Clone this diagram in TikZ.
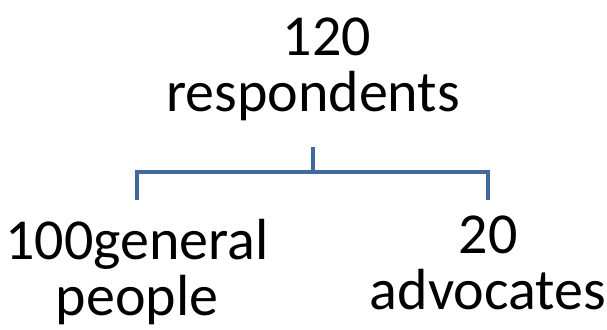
\documentclass[tikz,border=0pt]{standalone}
\usepackage{fontspec}
\setmainfont{Carlito}
\usetikzlibrary{positioning}
\definecolor{BR}{HTML}{41699C}

\begin{document}
\begin{tikzpicture}[x=1pt,y=-1pt,
    label text/.style={align=center, inner sep=0pt, anchor=north,
      font=\fontsize{58}{56}\selectfont},
    bracket/.style={BR, line width=4.5pt}]
  \useasboundingbox (0,0) rectangle (607,329);
  % texts
  \node[label text] (total) at (313,18) {\hspace*{0.48em}120\\respondents};
  \node[label text] (general) at (137,219) {100general\\people};
  \node[label text] (advocates) at (488,216) {20\\advocates};
  % bracket
  \coordinate (stem) at (313,147);
  \coordinate (fork) at (313,172);
  \coordinate (legL) at (137,200);
  \coordinate (legR) at (488,200);
  \draw[bracket] (stem) -- (fork);
  \draw[bracket] (legL) |- (fork) -| (legR);
\end{tikzpicture}
\end{document}
